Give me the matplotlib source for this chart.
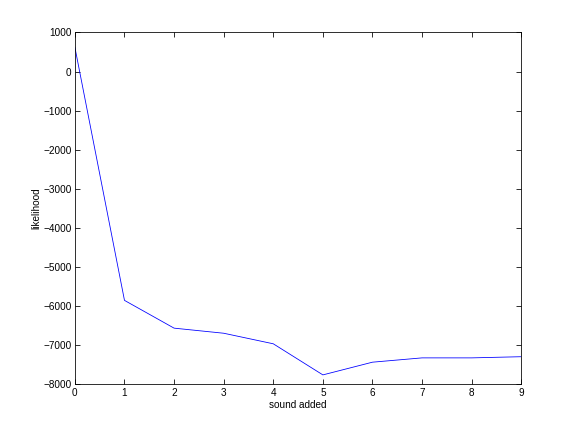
import matplotlib
matplotlib.use('Agg')
import matplotlib.pyplot as plt

plt.rcParams['font.family'] = ['Liberation Sans', 'DejaVu Sans']

sounds = [0, 1, 2, 3, 4, 5, 6, 7, 8, 9]
likelihood = [620, -5850, -6560, -6690, -6960, -7755, -7430, -7320, -7320, -7290]

fig = plt.figure(figsize=(8, 6), dpi=72)
ax = fig.add_axes([0.13, 0.11, 0.775, 0.815])
ax.plot(sounds, likelihood, color='blue', linewidth=0.8)

ax.set_xlim(0, 9)
ax.set_ylim(-8000, 1000)
ax.set_xticks(range(0, 10))
ax.set_yticks(range(-8000, 1001, 1000))
ax.tick_params(direction='in', top=True, right=True, length=5, width=0.8, labelsize=10)
for s in ax.spines.values():
    s.set_linewidth(0.8)

ax.set_xlabel('sound added', fontsize=10, labelpad=2)
ax.set_ylabel('likelihood', fontsize=10, labelpad=2)

fig.savefig('out.png', dpi=72)
